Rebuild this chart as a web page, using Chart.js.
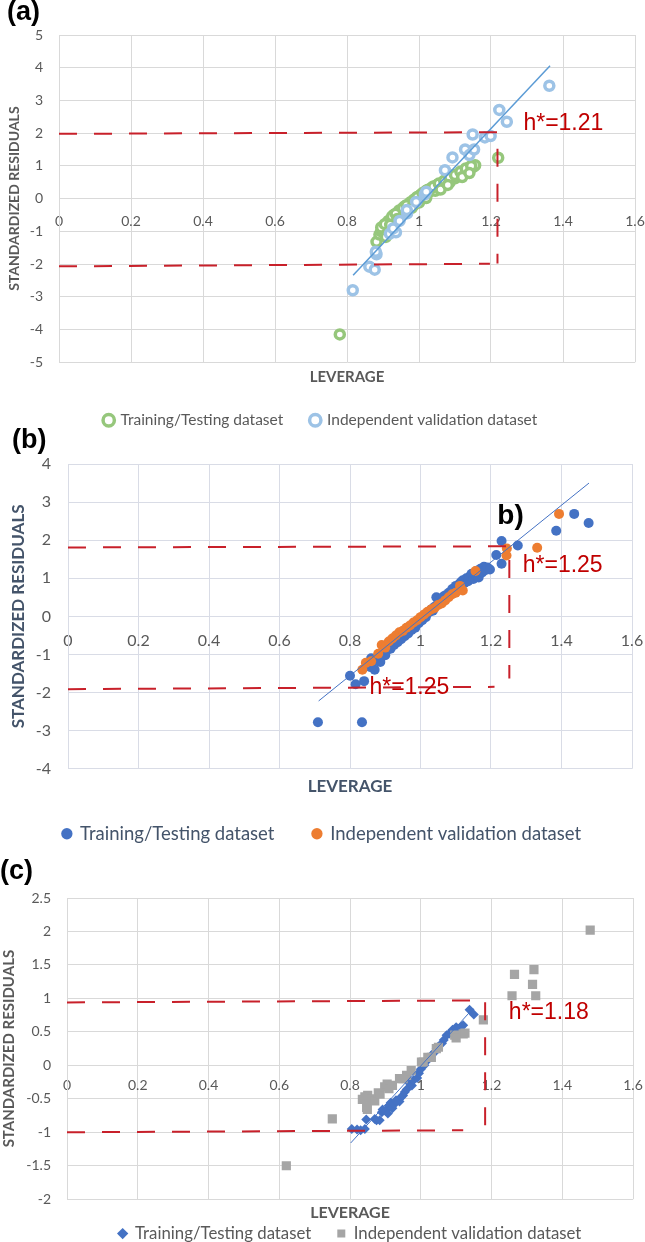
<!DOCTYPE html>
<html>
<head>
<meta charset="utf-8">
<title>Williams plots</title>
<script src="https://cdn.jsdelivr.net/npm/chart.js@4.4.0/dist/chart.umd.min.js"></script>
<style>
  html, body { margin: 0; padding: 0; background: #fff; overflow: hidden; }
  body { width: 645px; height: 1242px; position: relative; }
  canvas { position: absolute; left: 0; }
  #chartA { top: 0; }
  #chartB { top: 428px; }
  #chartC { top: 858px; }
</style>
</head>
<body>
<canvas id="chartA" width="645" height="438"></canvas>
<canvas id="chartB" width="645" height="425"></canvas>
<canvas id="chartC" width="645" height="395"></canvas>
<script>
"use strict";

// shared labels
var seriesNames = ['Training/Testing dataset', 'Independent validation dataset'];
var xTickLabels = ['0', '0.2', '0.4', '0.6', '0.8', '1', '1.2', '1.4', '1.6'];

// (a)
var aYTickLabels = ['-5', '-4', '-3', '-2', '-1', '0', '1', '2', '3', '4', '5'];
var aTrainX = [0.780, 1.220, 0.882, 0.890, 0.895, 0.900, 0.905, 0.908, 0.912, 0.918, 0.922, 0.928, 0.935, 0.940, 0.946, 0.952, 0.958, 0.964, 0.970, 0.976, 0.982, 0.988, 0.994, 1.000, 1.006, 1.012, 1.018, 1.024, 1.030, 1.036, 1.042, 1.048, 1.054, 1.060, 1.066, 1.072, 1.078, 1.084, 1.090, 1.097, 1.104, 1.110, 1.118, 1.125, 1.132, 1.140, 1.146, 1.152, 1.156, 1.045, 1.067, 1.085, 1.100, 1.115, 1.135, 0.960, 0.985, 0.915, 0.930, 0.945, 0.960, 0.975, 0.990, 1.005, 1.020, 1.035, 1.050,
    0.895, 0.905, 0.925, 0.935, 0.955, 0.965, 0.985, 0.995, 1.010, 1.025, 1.040, 1.055, 1.070, 1.085, 1.100, 1.115, 1.130, 1.145,
    0.920, 0.940, 0.980, 1.000, 1.020, 1.060, 1.080, 1.120, 1.140];
var aTrainY = [-4.15, 1.25, -1.32, -1.10, -1.00, -0.95, -0.90, -1.17, -0.80, -0.74, -0.70, -0.63, -0.57, -0.52, -0.47, -0.41, -0.36, -0.31, -0.26, -0.21, -0.16, -0.11, -0.06, -0.01, 0.04, 0.09, 0.13, 0.17, 0.22, 0.26, 0.30, 0.33, 0.37, 0.40, 0.44, 0.48, 0.52, 0.56, 0.60, 0.72, 0.67, 0.72, 0.78, 0.82, 0.86, 0.89, 0.95, 0.98, 1.02, 0.24, 0.40, 0.50, 0.62, 0.70, 0.92, -0.42, -0.20, -0.68, -0.50, -0.36, -0.24, -0.12, 0.00, 0.12, 0.24, 0.33, 0.42,
    -0.88, -0.78, -0.55, -0.46, -0.29, -0.20, -0.04, 0.05, 0.17, 0.27, 0.37, 0.46, 0.55, 0.64, 0.72, 0.82, 0.92, 1.00,
    -0.80, -0.62, -0.28, -0.12, 0.02, 0.28, 0.42, 0.66, 0.78];
var aValidX = [0.816, 0.862, 0.877, 0.882, 0.880, 0.919, 0.936, 0.928, 0.946, 0.967, 0.966, 0.992, 1.016, 1.020, 1.072, 1.093, 1.128, 1.140, 1.153, 1.149, 1.183, 1.199, 1.223, 1.244, 1.362];
var aValidY = [-2.80, -2.08, -2.17, -1.70, -1.62, -1.07, -1.03, -0.91, -0.68, -0.45, -0.35, -0.10, 0.13, 0.21, 0.87, 1.26, 1.50, 1.33, 1.50, 1.96, 1.87, 1.91, 2.71, 2.35, 3.45];
var aTrendX = [0.817, 1.364];
var aTrendY = [-2.34, 4.06];
var aUpperX = [0, 1.218, 1.218];
var aUpperY = [1.98, 2.03, -1.98];
var aLowerX = [0, 1.197];
var aLowerY = [-2.07, -1.99];

// (b)
var bYTickLabels = ['-4', '-3', '-2', '-1', '0', '1', '2', '3', '4'];
var bTrainX = [0.709, 0.834, 0.800, 0.816, 0.840, 0.857, 0.870, 0.860, 0.875, 0.886, 0.890, 0.900, 0.905, 0.910, 0.915, 0.920, 0.925, 0.930, 0.935, 0.940, 0.945, 0.950, 0.955, 0.960, 0.965, 0.970, 0.975, 0.980, 0.985, 0.990, 0.995, 1.000, 1.005, 1.010, 1.015, 1.020, 1.025, 1.030, 1.035, 1.040, 1.045, 1.050, 1.055, 1.060, 1.065, 1.070, 1.075, 1.080, 1.085, 1.090, 1.095, 1.100, 1.105, 1.110, 1.115, 1.120, 1.125, 1.130, 1.135, 1.140, 1.145, 1.150, 1.155, 1.160, 1.165, 1.170, 1.175, 1.180, 1.185, 1.190, 1.197, 1.215, 1.230, 1.230, 1.276, 1.385, 1.436, 1.477];
var bTrainY = [-2.78, -2.78, -1.56, -1.78, -1.70, -1.33, -1.40, -1.10, -1.15, -1.20, -1.05, -1.02, -0.88, -0.72, -0.85, -0.63, -0.75, -0.55, -0.68, -0.48, -0.60, -0.42, -0.52, -0.35, -0.45, -0.28, -0.36, -0.22, -0.30, -0.14, -0.18, -0.06, -0.10, 0.02, -0.02, 0.08, 0.12, 0.18, 0.15, 0.25, 0.50, 0.35, 0.45, 0.40, 0.52, 0.55, 0.50, 0.62, 0.58, 0.72, 0.68, 0.80, 0.75, 0.85, 0.90, 0.95, 0.88, 1.00, 0.92, 1.05, 1.12, 0.98, 1.10, 1.20, 1.02, 1.25, 1.15, 1.30, 1.22, 1.28, 1.23, 1.61, 1.38, 1.98, 1.86, 2.25, 2.69, 2.45];
var bValidX = [0.835, 0.845, 0.860, 0.880, 0.890, 0.900, 0.910, 0.920, 0.930, 0.940, 0.950, 0.960, 0.970, 0.980, 0.990, 1.000, 1.010, 1.020, 1.030, 1.040, 1.050, 1.060, 1.070, 1.080, 1.090, 1.100, 1.112, 1.120, 1.156, 1.244, 1.245, 1.331, 1.393];
var bValidY = [-1.40, -1.22, -1.18, -0.98, -0.75, -0.82, -0.66, -0.58, -0.50, -0.42, -0.38, -0.30, -0.24, -0.16, -0.10, -0.02, 0.05, 0.12, 0.18, 0.22, 0.30, 0.34, 0.42, 0.50, 0.58, 0.62, 0.80, 0.68, 1.19, 1.60, 1.78, 1.80, 2.69];
var bTrendX = [0.711, 1.478];
var bTrendY = [-2.22, 3.50];
var bUpperX = [0, 1.252, 1.252];
var bUpperY = [1.81, 1.84, -1.63];
var bLowerX = [0, 1.21];
var bLowerY = [-1.91, -1.85];

// (c)
var cYTickLabels = ['-2', '-1.5', '-1', '-0.5', '0', '0.5', '1', '1.5', '2', '2.5'];
var cTrainX = [0.805, 0.820, 0.830, 0.842, 0.846, 0.870, 0.875, 0.884, 0.890, 0.892, 0.900, 0.907, 0.910, 0.915, 0.920, 0.925, 0.930, 0.940, 0.945, 0.950, 0.955, 0.960, 0.969, 0.975, 0.980, 0.990, 0.995, 1.000, 1.010, 1.020, 1.030, 1.040, 1.045, 1.050, 1.060, 1.065, 1.073, 1.080, 1.090, 1.100, 1.105, 1.115, 1.120, 1.138, 1.150];
var cTrainY = [-0.95, -0.96, -0.97, -0.95, -0.81, -0.80, -0.82, -0.82, -0.70, -0.66, -0.68, -0.72, -0.60, -0.56, -0.64, -0.58, -0.52, -0.54, -0.47, -0.45, -0.40, -0.36, -0.27, -0.30, -0.22, -0.19, -0.12, -0.06, 0.00, 0.08, 0.15, 0.20, 0.25, 0.28, 0.33, 0.38, 0.45, 0.47, 0.53, 0.57, 0.55, 0.58, 0.60, 0.83, 0.76];
var cValidX = [0.620, 0.750, 0.835, 0.842, 0.847, 0.849, 0.850, 0.860, 0.870, 0.880, 0.885, 0.898, 0.905, 0.910, 0.920, 0.940, 0.950, 0.960, 0.973, 1.002, 1.007, 1.020, 1.030, 1.044, 1.050, 1.096, 1.100, 1.120, 1.125, 1.177, 1.258, 1.265, 1.316, 1.320, 1.325, 1.479];
var cValidY = [-1.50, -0.80, -0.51, -0.47, -0.63, -0.66, -0.45, -0.50, -0.53, -0.41, -0.43, -0.32, -0.28, -0.35, -0.30, -0.20, -0.20, -0.15, -0.08, 0.05, 0.05, 0.12, 0.12, 0.25, 0.27, 0.45, 0.41, 0.47, 0.48, 0.68, 1.04, 1.36, 1.21, 1.43, 1.04, 2.02];
var cTrendX = [0.802, 1.148];
var cTrendY = [-1.16, 0.85];
var cUpperX = [0, 1.182, 1.182];
var cUpperY = [0.94, 0.97, -0.90];
var cLowerX = [0, 1.12];
var cLowerY = [-1.00, -0.97];

var RED = '#C8202A';
var GRAY_TEXT = '#595959';

Chart.defaults.font.family = 'Lato, "Open Sans", sans-serif';
Chart.defaults.animation = false;

function pts(xs, ys) {
    return xs.map(function (x, i) { return {x: x, y: ys[i]}; });
}

// text labels (h*, b)) placed in data units
var textLabels = {
    id: 'textLabels',
    afterDatasetsDraw: function (chart, args, opts) {
        var ctx = chart.ctx, sx = chart.scales.x, sy = chart.scales.y;
        ctx.save();
        ctx.textAlign = 'left';
        ctx.textBaseline = 'middle';
        (opts.items || []).forEach(function (it) {
            ctx.font = it.font || '23px "Liberation Sans", Arial, sans-serif';
            ctx.fillStyle = it.color || '#C00000';
            ctx.fillText(it.text, sx.getPixelForValue(it.x), sy.getPixelForValue(it.y));
        });
        ctx.restore();
    }
};

function panel(id, p) {
    var lineSet = function (xs, ys, color, width, dash, order) {
        return {label: 'line', data: pts(xs, ys), showLine: true, pointRadius: 0,
            borderColor: color, borderWidth: width, borderDash: dash, order: order};
    };
    return new Chart(document.getElementById(id), {
        type: 'scatter',
        data: {
            datasets: [
                Object.assign({label: seriesNames[0], data: pts(p.trainX, p.trainY), order: 3}, p.trainStyle),
                Object.assign({label: seriesNames[1], data: pts(p.validX, p.validY), order: 2}, p.validStyle),
                lineSet(p.trendX, p.trendY, p.trendColor, p.trendWidth, [], 1),
                lineSet(p.upperX, p.upperY, RED, 2, [18, 17], 0),
                lineSet(p.lowerX, p.lowerY, RED, 2, [18, 17], 0)
            ]
        },
        options: {
            responsive: false,
            events: [],
            layout: {padding: p.padding},
            scales: {
                x: {
                    type: 'linear',
                    position: {y: 0},
                    min: 0, max: 1.6,
                    grid: {color: p.gridColor, tickLength: p.xTickLength, tickColor: 'rgba(0,0,0,0)'},
                    border: {color: p.gridColor},
                    ticks: {
                        stepSize: 0.2, padding: 0, maxRotation: 0, autoSkip: false,
                        color: GRAY_TEXT, font: {size: p.tickSize},
                        callback: function (v, i) { return xTickLabels[i]; }
                    }
                },
                y: {
                    min: p.yMin, max: p.yMax,
                    grid: {color: p.gridColor, drawTicks: false},
                    border: {color: p.gridColor},
                    ticks: {
                        stepSize: p.yStep, padding: p.yTickPadding,
                        color: GRAY_TEXT, font: {size: p.tickSize},
                        callback: function (v, i) { return p.yLabels[i]; }
                    },
                    title: {
                        display: true, text: 'STANDARDIZED RESIDUALS',
                        color: p.axisColor, font: {size: p.yTitleSize, weight: 'bold', lineHeight: 1.2},
                        padding: {top: p.yTitlePad, bottom: 0}
                    },
                    afterFit: function (scale) { scale.width = p.yWidth; }
                }
            },
            plugins: {
                tooltip: {enabled: false},
                title: {
                    display: true, text: p.panel, align: 'start', color: '#000',
                    font: {family: '"Liberation Sans", Arial, sans-serif', size: 27, weight: 'bold', lineHeight: 1},
                    padding: p.titlePad
                },
                subtitle: {
                    display: true, text: 'LEVERAGE', position: 'bottom', weight: 500, fullSize: false,
                    color: p.axisColor, font: {size: p.xTitleSize, weight: 'bold', lineHeight: 1.2},
                    padding: p.xTitlePad
                },
                legend: {
                    position: 'bottom',
                    fullSize: p.legendFull,
                    labels: {
                        usePointStyle: true, boxWidth: 8, boxHeight: 8,
                        padding: p.legendPad, color: p.legendColor, font: {size: p.legendSize},
                        filter: function (item) { return item.datasetIndex < 2; },
                        sort: function (a, b) { return a.datasetIndex - b.datasetIndex; }
                    }
                },
                textLabels: {items: p.texts}
            }
        },
        plugins: [textLabels]
    });
}

// (a) hollow rings
panel('chartA', {
    panel: '(a)',
    trainX: aTrainX, trainY: aTrainY, validX: aValidX, validY: aValidY,
    trendX: aTrendX, trendY: aTrendY, upperX: aUpperX, upperY: aUpperY, lowerX: aLowerX, lowerY: aLowerY,
    trainStyle: {pointStyle: 'circle', pointRadius: 4.5, borderWidth: 3.5, borderColor: '#96C77C', backgroundColor: '#fff'},
    validStyle: {pointStyle: 'circle', pointRadius: 4.5, borderWidth: 3.5, borderColor: '#9DC3E6', backgroundColor: '#fff'},
    trendColor: '#5B9BD5', trendWidth: 1.5,
    padding: {left: 7, right: 10, top: 0, bottom: 0},
    titlePad: {top: -1, bottom: 9},
    gridColor: '#D9D9D9', axisColor: GRAY_TEXT,
    yMin: -5, yMax: 5, yStep: 1, yLabels: aYTickLabels, yWidth: 52, yTickPadding: 16,
    tickSize: 14, xTickLength: 14.1,
    yTitleSize: 14, yTitlePad: -1,
    xTitleSize: 15, xTitlePad: {top: 6, bottom: -1.75},
    legendFull: true, legendPad: 28, legendSize: 15.5, legendColor: GRAY_TEXT,
    texts: [{text: 'h*=1.21', x: 1.29, y: 2.3}]
});

// (b) filled circles
panel('chartB', {
    panel: '(b)',
    trainX: bTrainX, trainY: bTrainY, validX: bValidX, validY: bValidY,
    trendX: bTrendX, trendY: bTrendY, upperX: bUpperX, upperY: bUpperY, lowerX: bLowerX, lowerY: bLowerY,
    trainStyle: {pointStyle: 'circle', pointRadius: 5, borderWidth: 0, borderColor: '#4472C4', backgroundColor: '#4472C4'},
    validStyle: {pointStyle: 'circle', pointRadius: 5, borderWidth: 0, borderColor: '#ED7D31', backgroundColor: '#ED7D31'},
    trendColor: '#4472C4', trendWidth: 1,
    padding: {left: 12, right: 13, top: 0, bottom: 0},
    titlePad: {top: -0.5, bottom: 9.5},
    gridColor: '#D9DCE6', axisColor: '#44546A',
    yMin: -4, yMax: 4, yStep: 1, yLabels: bYTickLabels, yWidth: 56, yTickPadding: 17,
    tickSize: 16, xTickLength: 14.4,
    yTitleSize: 17, yTitlePad: -3.7,
    xTitleSize: 17, xTitlePad: {top: 7.5, bottom: -10.65},
    legendFull: true, legendPad: 38.5, legendSize: 18.5, legendColor: '#44546A',
    texts: [
        {text: 'h*=1.25', x: 1.29, y: 1.34},
        {text: 'h*=1.25', x: 0.855, y: -1.88},
        {text: 'b)', x: 1.218, y: 2.64, font: 'bold 28px "Liberation Sans", Arial, sans-serif', color: '#000'}
    ]
});

// (c) diamonds and squares
panel('chartC', {
    panel: '(c)',
    trainX: cTrainX, trainY: cTrainY, validX: cValidX, validY: cValidY,
    trendX: cTrendX, trendY: cTrendY, upperX: cUpperX, upperY: cUpperY, lowerX: cLowerX, lowerY: cLowerY,
    trainStyle: {pointStyle: 'rectRot', pointRadius: 5, borderWidth: 0, borderColor: '#4472C4', backgroundColor: '#4472C4'},
    validStyle: {pointStyle: 'rect', pointRadius: 6.5, borderWidth: 0, borderColor: '#A5A5A5', backgroundColor: '#A5A5A5'},
    trendColor: '#4472C4', trendWidth: 1,
    padding: {left: 0, right: 12, top: 0, bottom: 1},
    titlePad: {top: 0, bottom: 13},
    gridColor: '#D9D9D9', axisColor: GRAY_TEXT,
    yMin: -2, yMax: 2.5, yStep: 0.5, yLabels: cYTickLabels, yWidth: 67, yTickPadding: 16,
    tickSize: 14, xTickLength: 11.6,
    yTitleSize: 15, yTitlePad: 0,
    xTitleSize: 16, xTitlePad: {top: 4.4, bottom: -23.6},
    legendFull: false, legendPad: 26, legendSize: 16.8, legendColor: GRAY_TEXT,
    texts: [{text: 'h*=1.18', x: 1.249, y: 0.78}]
});
</script>
</body>
</html>
